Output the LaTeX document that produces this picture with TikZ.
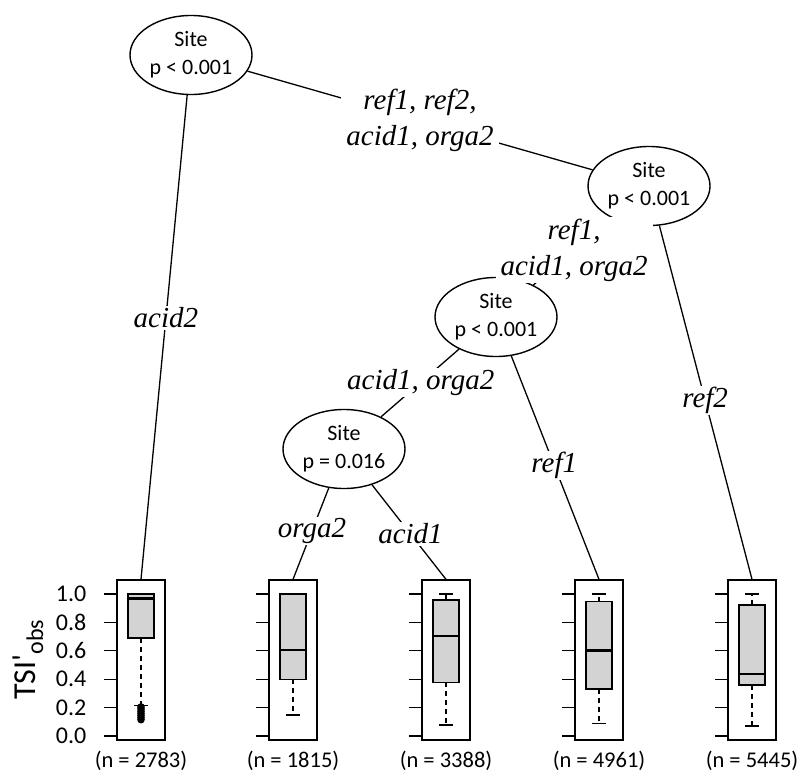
\documentclass[tikz,border=0pt]{standalone}
\usepackage{fontspec}
\setmainfont{Carlito}
\newfontfamily\lblfont{Liberation Serif}
\newfontfamily\plainfont{Carlito}[Ligatures=ResetAll]
\usetikzlibrary{shapes.geometric}
\definecolor{boxgray}{RGB}{211,211,211}
\newcommand\bplot[6]{% cx, lo, q1, med, q3, hi
  \filldraw[fill=boxgray, line width=1.3pt] ({#1-13},{736-142*#3}) rectangle ({#1+13},{736-142*#5});
  \draw[line width=2.8pt] ({#1-13},{736-142*#4}) -- ({#1+13},{736-142*#4});
  \draw[dashed] (#1,{736-142*#3}) -- (#1,{736-142*#2});
  \draw ({#1-7},{736-142*#2}) -- ({#1+7},{736-142*#2});
  \draw[dashed] (#1,{736-142*#5}) -- (#1,{736-142*#6});
  \draw ({#1-7},{736-142*#6}) -- ({#1+7},{736-142*#6});
}
\newcommand\pticks[1]{%
  \foreach \k in {0,...,5} \draw ({#1-37},{736-28.4*\k}) -- ({#1-24},{736-28.4*\k});
}
\begin{document}
\begin{tikzpicture}[x=1pt,y=-1pt, line width=1.3pt,
  split/.style={draw, ellipse, line width=1.4pt, minimum width=122pt, minimum height=79pt,
    inner sep=0pt, align=center, font=\fontsize{22}{28}\selectfont},
  elab/.style={fill=white, inner xsep=5pt, inner ysep=1.5pt, align=center,
    font=\lblfont\itshape\fontsize{29}{36}\selectfont},
  panel/.style={draw, minimum width=48pt, minimum height=160pt, inner sep=0pt},
  nlab/.style={inner sep=0pt, font=\fontsize{22.5}{26}\selectfont},
  tlab/.style={anchor=east, inner sep=0pt, font=\fontsize{24}{26}\selectfont},
  dashed/.style={dash pattern=on 5pt off 4pt}
]
\useasboundingbox (0,0) rectangle (802,773);

% inner nodes
\node[split] (n1) at (191,55)  {Site\\p < 0.001};
\node[split] (n2) at (649,186) {Site\\p < 0.001};
\node[split] (n3) at (496,317) {Site\\p < 0.001};
\node[split] (n4) at (344,449) {Site\\p = 0.016};

% terminal panels
\node[panel] (b1) at (141,660) {};
\node[panel] (b2) at (293,660) {};
\node[panel] (b3) at (446,660) {};
\node[panel] (b4) at (599,660) {};
\node[panel] (b5) at (752,660) {};

% edges
\draw (n1) -- node[elab, pos=0.46] {acid2} (b1.north);
\draw (n1) -- node[elab, pos=0.5] {ref1, ref2,\\acid1, orga2} (n2);
\draw (n2) -- node[elab, pos=0.48] {ref1,\\acid1, orga2} (n3);
\draw (n2) -- node[elab, pos=0.494] {ref2} (b5.north);
\draw (n3) -- node[elab, pos=0.49] {acid1, orga2} (n4);
\draw (n3) -- node[elab, pos=0.49] {ref1} (b4.north);
\draw (n4) -- node[elab, pos=0.47] {orga2} (b2.north);
\draw (n4) -- node[elab, pos=0.52] {acid1} (b3.north);

% ticks
\pticks{141}\pticks{293}\pticks{446}\pticks{599}\pticks{752}
\foreach \k/\t in {0/0.0,1/0.2,2/0.4,3/0.6,4/0.8,5/1.0}
  \node[tlab] (t\k) at (87,{736-28.4*\k}) {\t};
\node[rotate=90, inner sep=0pt] (ylab) at (28,660)
  {\plainfont\fontsize{32}{32}\selectfont TSI\raisebox{1pt}{'}\raisebox{-8pt}{\fontsize{24}{24}\selectfont obs}};

% boxplots
\bplot{141}{0.215}{0.69}{0.97}{1.0}{1.0}
\foreach \v in {0.115,0.13,...,0.21} \fill (141,{736-142*\v}) circle (3.8);
\bplot{293}{0.148}{0.40}{0.606}{1.0}{1.0}
\bplot{446}{0.077}{0.378}{0.704}{0.958}{1.0}
\bplot{599}{0.089}{0.331}{0.60}{0.946}{1.0}
\bplot{752}{0.07}{0.359}{0.437}{0.923}{1.0}

% counts
\node[nlab] (c1) at (141,761) {(n = 2783)};
\node[nlab] (c2) at (293,761) {(n = 1815)};
\node[nlab] (c3) at (446,761) {(n = 3388)};
\node[nlab] (c4) at (599,761) {(n = 4961)};
\node[nlab] (c5) at (752,761) {(n = 5445)};
\end{tikzpicture}
\end{document}
